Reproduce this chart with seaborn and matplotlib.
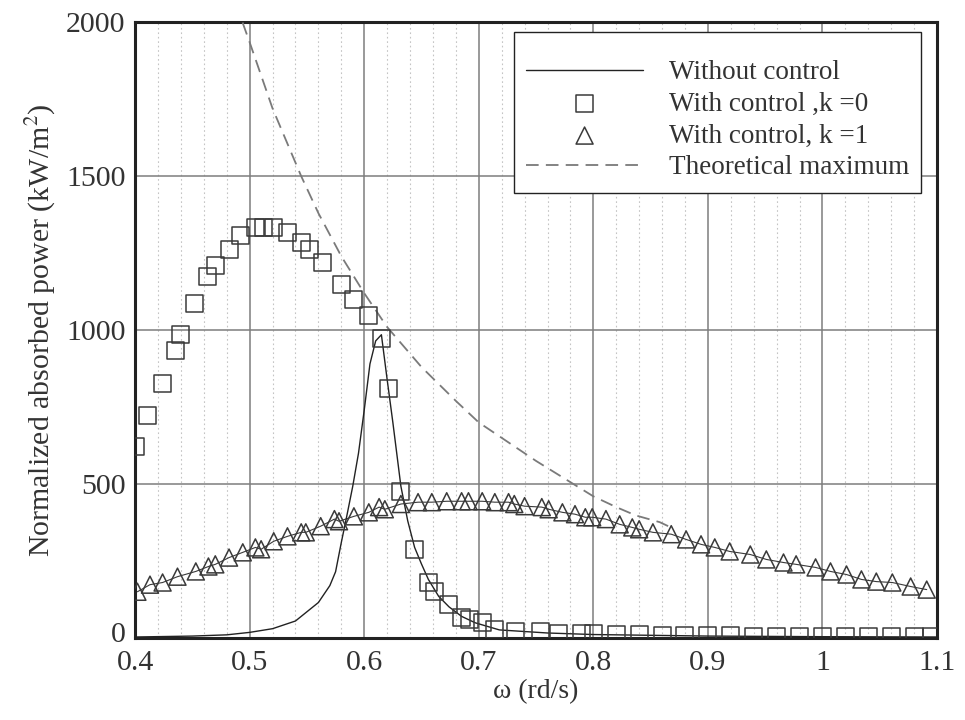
import matplotlib
matplotlib.use("Agg")
import matplotlib.pyplot as plt
import matplotlib.transforms as mtransforms
import seaborn as sns
import pandas as pd
from matplotlib.ticker import MultipleLocator, FixedLocator

# --- data -------------------------------------------------------------
# Without control: resonant response
free_w = [0.40, 0.45, 0.48, 0.50, 0.52, 0.54, 0.56, 0.57, 0.575, 0.58, 0.585,
          0.59, 0.595, 0.60, 0.605, 0.61, 0.615, 0.62, 0.625, 0.632, 0.638,
          0.644, 0.65, 0.656, 0.665, 0.674, 0.685, 0.697, 0.718, 0.76, 0.80,
          0.90, 1.00, 1.10]
free_p = [3, 6, 10, 18, 30, 55, 115, 170, 215, 310, 400,
          493, 600, 740, 890, 965, 985, 840, 700, 493, 380,
          294, 240, 190, 135, 101, 70, 49, 26, 16, 11,
          6, 4, 3]

# With control, k = 0
k0_w = [0.400, 0.411, 0.424, 0.435, 0.440, 0.452, 0.463, 0.470, 0.482, 0.492,
        0.505, 0.512, 0.521, 0.533, 0.545, 0.552, 0.564, 0.580, 0.591, 0.604,
        0.615, 0.621, 0.632, 0.644, 0.656, 0.661, 0.674, 0.685, 0.692, 0.703,
        0.714, 0.732, 0.754, 0.770, 0.790, 0.800, 0.820, 0.840, 0.860, 0.880,
        0.900, 0.920, 0.940, 0.960, 0.980, 1.000, 1.020, 1.040, 1.060, 1.080,
        1.095]
k0_p = [621, 722, 827, 935, 987, 1085, 1173, 1209, 1261, 1307,
        1333, 1333, 1333, 1317, 1284, 1261, 1219, 1147, 1098, 1049,
        974, 810, 477, 288, 180, 150, 108, 65, 59, 49,
        26, 20, 20, 15, 13, 13, 10, 10, 9, 8,
        8, 7, 6, 6, 5, 5, 5, 4, 4, 4,
        4]

# With control, k = 1
k1_w = [0.402, 0.413, 0.424, 0.437, 0.453, 0.464, 0.470, 0.482, 0.494, 0.505,
        0.510, 0.521, 0.533, 0.545, 0.549, 0.562, 0.574, 0.578, 0.591, 0.604,
        0.613, 0.618, 0.632, 0.647, 0.659, 0.672, 0.685, 0.691, 0.703, 0.714,
        0.726, 0.731, 0.740, 0.755, 0.761, 0.773, 0.784, 0.793, 0.799, 0.811,
        0.823, 0.834, 0.840, 0.852, 0.868, 0.881, 0.894, 0.906, 0.919, 0.937,
        0.951, 0.966, 0.977, 0.994, 1.007, 1.021, 1.034, 1.047, 1.061, 1.077,
        1.091]
k1_p = [150, 173, 180, 199, 216, 232, 239, 261, 278, 294,
        288, 314, 330, 343, 343, 363, 386, 379, 395, 408,
        425, 418, 435, 441, 441, 444, 444, 444, 444, 441,
        441, 435, 428, 425, 418, 408, 402, 392, 392, 386,
        369, 359, 353, 343, 337, 320, 304, 294, 281, 271,
        255, 245, 239, 229, 216, 206, 190, 183, 180, 167,
        157]

# Theoretical maximum
max_w = [0.488, 0.50, 0.52, 0.545, 0.56, 0.58, 0.60, 0.62, 0.65, 0.68, 0.70,
         0.72, 0.75, 0.78, 0.80, 0.82, 0.837, 0.858, 0.87]
max_p = [2060, 1935, 1720, 1500, 1380, 1240, 1120, 1010, 880, 770, 700,
         650, 575, 506, 460, 425, 398, 376, 355]

x_ticks = [0.4, 0.5, 0.6, 0.7, 0.8, 0.9, 1.0, 1.1]
x_tick_labels = ["0.4", "0.5", "0.6", "0.7", "0.8", "0.9", "1", "1.1"]
y_ticks = [0, 500, 1000, 1500, 2000]
y_tick_labels = ["0", "500", "1000", "1500", "2000"]

free_df = pd.DataFrame({"w": free_w, "p": free_p})
k0_df = pd.DataFrame({"w": k0_w, "p": k0_p})
k1_df = pd.DataFrame({"w": k1_w, "p": k1_p})
max_df = pd.DataFrame({"w": max_w, "p": max_p})

# --- style --------------------------------------------------------------
sns.set_theme(style="white")
plt.rcParams["font.family"] = ["Liberation Serif", "DejaVu Serif"]
plt.rcParams["mathtext.fontset"] = "stix"

fig = plt.figure(figsize=(9.65, 7.2), dpi=100)
ax = fig.add_axes([0.140, 0.114, 0.831, 0.855])

ink = "#3a3a3a"

# thin guide line through the k = 1 case
sns.lineplot(data=k1_df, x="w", y="p", ax=ax, color=ink, lw=0.8,
             sort=False, label="_nolegend_", zorder=3)

sns.lineplot(data=free_df, x="w", y="p", ax=ax, color="#222222", lw=1.0,
             sort=False, label="Without control", zorder=4)
sns.scatterplot(data=k0_df, x="w", y="p", ax=ax, marker="s", s=150,
                facecolor="none", edgecolor=ink, linewidth=1.1,
                label="With control ,k =0", zorder=5)
sns.scatterplot(data=k1_df, x="w", y="p", ax=ax, marker="^", s=150,
                facecolor="none", edgecolor=ink, linewidth=1.1,
                label="With control, k =1", zorder=5)
sns.lineplot(data=max_df, x="w", y="p", ax=ax, color="#7a7a7a", lw=1.3,
             sort=False, label="Theoretical maximum", zorder=4)
ax.lines[-1].set_dashes((7, 4))

# --- axes ---------------------------------------------------------------
ax.set_xlim(0.4, 1.1)
ax.set_ylim(0, 2000)
ax.xaxis.set_major_locator(FixedLocator(x_ticks))
ax.set_xticklabels(x_tick_labels)
ax.yaxis.set_major_locator(FixedLocator(y_ticks))
ax.set_yticklabels(y_tick_labels)
ax.xaxis.set_minor_locator(MultipleLocator(0.02))
ax.yaxis.set_minor_locator(MultipleLocator(100))

ax.grid(which="major", axis="both", color="#7d7d7d", lw=1.1, zorder=0)
ax.grid(which="minor", axis="x", color="#c4c4c4", lw=0.8, ls=(0, (1.5, 2.5)),
        zorder=0)
ax.set_axisbelow(True)

ax.tick_params(which="major", direction="in", length=8, width=1.5,
               color="#222222", labelsize=21.5, labelcolor="#333333",
               top=False, right=False)
ax.tick_params(axis="x", which="major", pad=9)
ax.tick_params(axis="y", which="major", pad=7)
ax.tick_params(which="minor", direction="in", length=4, width=1.0,
               color="#444444", top=False, right=False)

# lift the corner "0" a little so it clears the first x label
zero_label = ax.get_yticklabels()[0]
zero_label.set_transform(zero_label.get_transform() +
                         mtransforms.ScaledTranslation(0, 4 / 72,
                                                       fig.dpi_scale_trans))

for sp in ax.spines.values():
    sp.set_color("#222222")
    sp.set_linewidth(2.2)

ax.set_xlabel("ω (rd/s)", fontsize=20, color="#333333", labelpad=2)
ax.set_ylabel("Normalized absorbed power (kW/m$^2$)", fontsize=21.5,
              color="#333333", labelpad=6)

leg = ax.legend(loc="upper right", bbox_to_anchor=(0.980, 0.984),
                borderaxespad=0, fontsize=19.5, frameon=True, fancybox=False,
                framealpha=1, edgecolor="#222222", handlelength=4.3,
                handletextpad=0.95, labelspacing=0.25, borderpad=0.45,
                title=" ", title_fontproperties={"size": 8})
leg.get_frame().set_linewidth(1.0)
for t in leg.get_texts():
    t.set_color("#333333")

fig.savefig("out.png", dpi=100)
